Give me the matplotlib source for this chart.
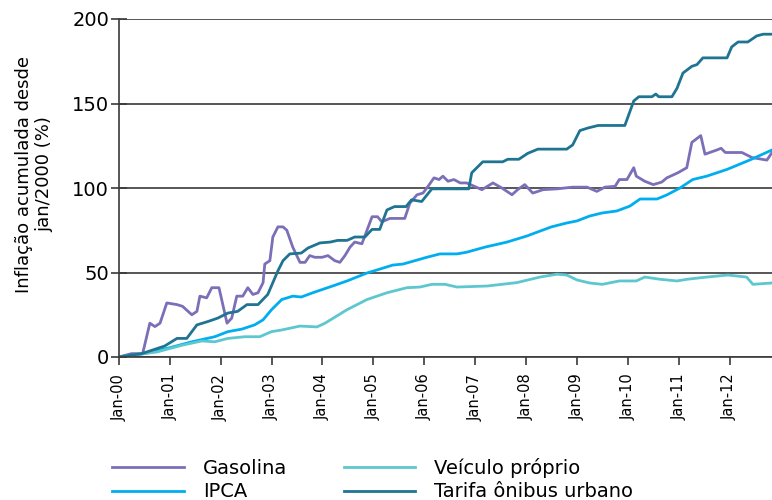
import numpy as np
import matplotlib.pyplot as plt

# meses desde jan/2000 (0 = Jan-00) e inflação acumulada (%)
gas_m = [0, 3, 5.6, 7.3, 8.5, 9.7, 11.3, 13.7, 15, 17.2, 18.4, 19.1, 20.7, 21.9, 23.6, 25.5, 26.6,
         27.8, 29.2, 30.4, 31.6, 32.8, 34, 34.4, 35.6, 36.3, 37.5, 38.7, 39.6, 41, 42.7, 43.9, 45,
         46.2, 47.9, 49.3, 50.9, 52.1, 53.3, 54.5, 55.6, 57.3, 58.5, 59.7, 61, 62, 63.9, 65.8, 67.4,
         68.6, 70.3, 71.7, 72.9, 74.3, 75.5, 76.4, 77.6, 79, 80.5, 82, 85.6, 88.2, 90.3, 92.7, 94,
         95.7, 97.6, 100, 103.3, 107, 110.4, 112.7, 114.6, 117, 118, 119.8, 121.4, 122, 124, 126,
         128, 129.2, 131.8, 133.9, 135.1, 137.2, 138.2, 141, 142, 143, 144, 146.9, 149.3, 152.8, 154]
gas_v = [0, 2, 2, 20, 18, 20, 32, 31, 30, 25, 27, 36, 35, 41, 41, 20, 23,
         36, 36, 41, 37, 38, 44, 55, 57, 71, 77, 77, 75, 65, 56, 56, 60,
         59, 59, 60, 57, 56, 60, 65, 68, 67, 75, 83, 83, 80, 82, 82, 82,
         91, 96, 97, 101, 106, 105, 107, 104, 105, 103, 103, 99, 103, 100, 96, 99,
         102, 97, 99, 99.5, 100.5, 100.5, 98, 100.5, 101, 105, 105, 112, 107, 104, 102,
         103.5, 106, 109, 112, 127, 131, 120, 122.5, 123.5, 121, 121, 121, 118, 116.5, 121]

ipca_m = [0, 6, 12, 17.2, 22.6, 25.7, 29, 32, 34, 36, 38.4, 41, 43, 45.7, 49.8, 53.8, 58.5, 61.5,
          64.6, 67, 69.8, 72.6, 75.7, 79.7, 82, 86.3, 91.5, 96.2, 99.3, 102, 105.6, 108, 111,
          113.9, 117.4, 120.5, 122.9, 126.9, 129.2, 132.3, 135.3, 138.6, 143.4, 148.8, 154]
ipca_v = [0, 2, 5.5, 9, 12, 15, 16.5, 19, 22, 28, 34, 36, 35.5, 38, 41.5, 45, 49.7, 52,
          54.4, 55, 57, 59, 61, 61, 62, 65, 68, 71.6, 74.5, 77, 79.3, 80.5, 83.4,
          85.2, 86.4, 89.3, 93.5, 93.5, 95.9, 100, 105, 107, 111, 116.6, 122.5]

veic_m = [0, 9, 14.9, 19.6, 22.6, 25.7, 29.7, 33.2, 36, 38.4, 42.7, 46.7, 48.6, 53.8, 58.5, 63.2,
          67.9, 71, 73.8, 76.9, 79.7, 86.8, 93.8, 99.3, 103.3, 105.6, 108, 111, 114, 118, 122,
          124, 127.6, 131.6, 134, 138.6, 143.6, 148, 149.5, 154]
veic_v = [0, 3, 7, 9.5, 9, 11, 12, 12, 15, 16, 18.3, 17.8, 20, 28, 34, 38,
          41, 41.4, 43, 43, 41.4, 42, 44, 47.3, 49, 48.5, 45.6, 43.8, 43, 45, 45,
          47.3, 46, 45, 46, 47.3, 48.5, 47.3, 43, 43.8]

tar_m = [0, 5.4, 10.8, 13.7, 16, 18.4, 21, 23.3, 25.7, 28, 30.2, 32.8, 35.1, 37.5, 38.7, 40.3,
         43, 44.6, 47.4, 49.8, 51.6, 53.8, 55.6, 58, 59.7, 61.5, 63.2, 65, 67.7, 69, 71.4, 73.8,
         82.5, 83.2, 85.8, 90.5, 91.7, 94.3, 96.4, 98.8, 105.6, 107, 108.7, 110.6, 113, 119.3,
         121.4, 122.6, 125.7, 126.6, 127.3, 130.4, 131.6, 133, 135.1, 136.3, 137.7, 143.4, 144.5,
         146, 148.3, 150.4, 151.9, 154]
tar_v = [0, 2, 6.5, 11, 11, 19, 21, 23, 26, 27, 31, 31, 37, 51, 57, 61,
         61.5, 64.5, 67.5, 68, 69, 69, 71, 71, 75.5, 75.5, 87, 89, 89, 93, 92, 99.5,
         99.5, 109, 115.5, 115.5, 117, 117, 120.5, 123, 123, 125.5, 134, 135.5, 137, 137,
         151.5, 154, 154, 155.6, 154, 154, 159, 168, 172, 173, 177, 177, 183.5,
         186.4, 186.4, 190, 191, 191]

xticks = np.arange(0, 145, 12)
xlabels = ['Jan-%02d' % i for i in range(13)]

fig = plt.figure(figsize=(7.72, 5.0), dpi=100)
ax = fig.add_axes([0.154, 0.286, 0.846, 0.676])

l1, = ax.plot(gas_m, gas_v, color='#7b6fb8', lw=2.0, label='Gasolina')
l2, = ax.plot(ipca_m, ipca_v, color='#00aeef', lw=2.0, label='IPCA')
l3, = ax.plot(veic_m, veic_v, color='#5cc7cf', lw=2.0, label='Veículo próprio')
l4, = ax.plot(tar_m, tar_v, color='#1f7492', lw=2.0, label='Tarifa ônibus urbano')

ax.set_xlim(0, 154)
ax.set_ylim(0, 200)
ax.set_yticks([0, 50, 100, 150, 200])
ax.yaxis.grid(True, color='#3a3a3a', lw=1.2)
ax.set_axisbelow(True)
ax.set_xticks(xticks)
ax.set_xticklabels(xlabels, rotation=90, fontsize=10.5)
ax.tick_params(axis='x', length=6, width=1.2, color='#3a3a3a', pad=6)
ax.tick_params(axis='y', direction='inout', length=12, width=1.2, color='#3a3a3a',
               labelsize=14, pad=1)
for s in ['top', 'right']:
    ax.spines[s].set_visible(False)
for s in ['left', 'bottom']:
    ax.spines[s].set_color('#3a3a3a')
    ax.spines[s].set_linewidth(1.2)
ax.set_ylabel('Inflação acumulada desde\njan/2000 (%)', fontsize=13)
ax.yaxis.set_label_coords(-0.10, 0.54)

fig.legend([l1, l2, l3, l4], ['Gasolina', 'IPCA', 'Veículo próprio', 'Tarifa ônibus urbano'],
           ncol=2, loc='upper left', bbox_to_anchor=(0.123, 0.12), frameon=False,
           fontsize=14, handlelength=3.7, handletextpad=0.95, columnspacing=2.9,
           labelspacing=0.25)

fig.savefig('out.png', dpi=100)
